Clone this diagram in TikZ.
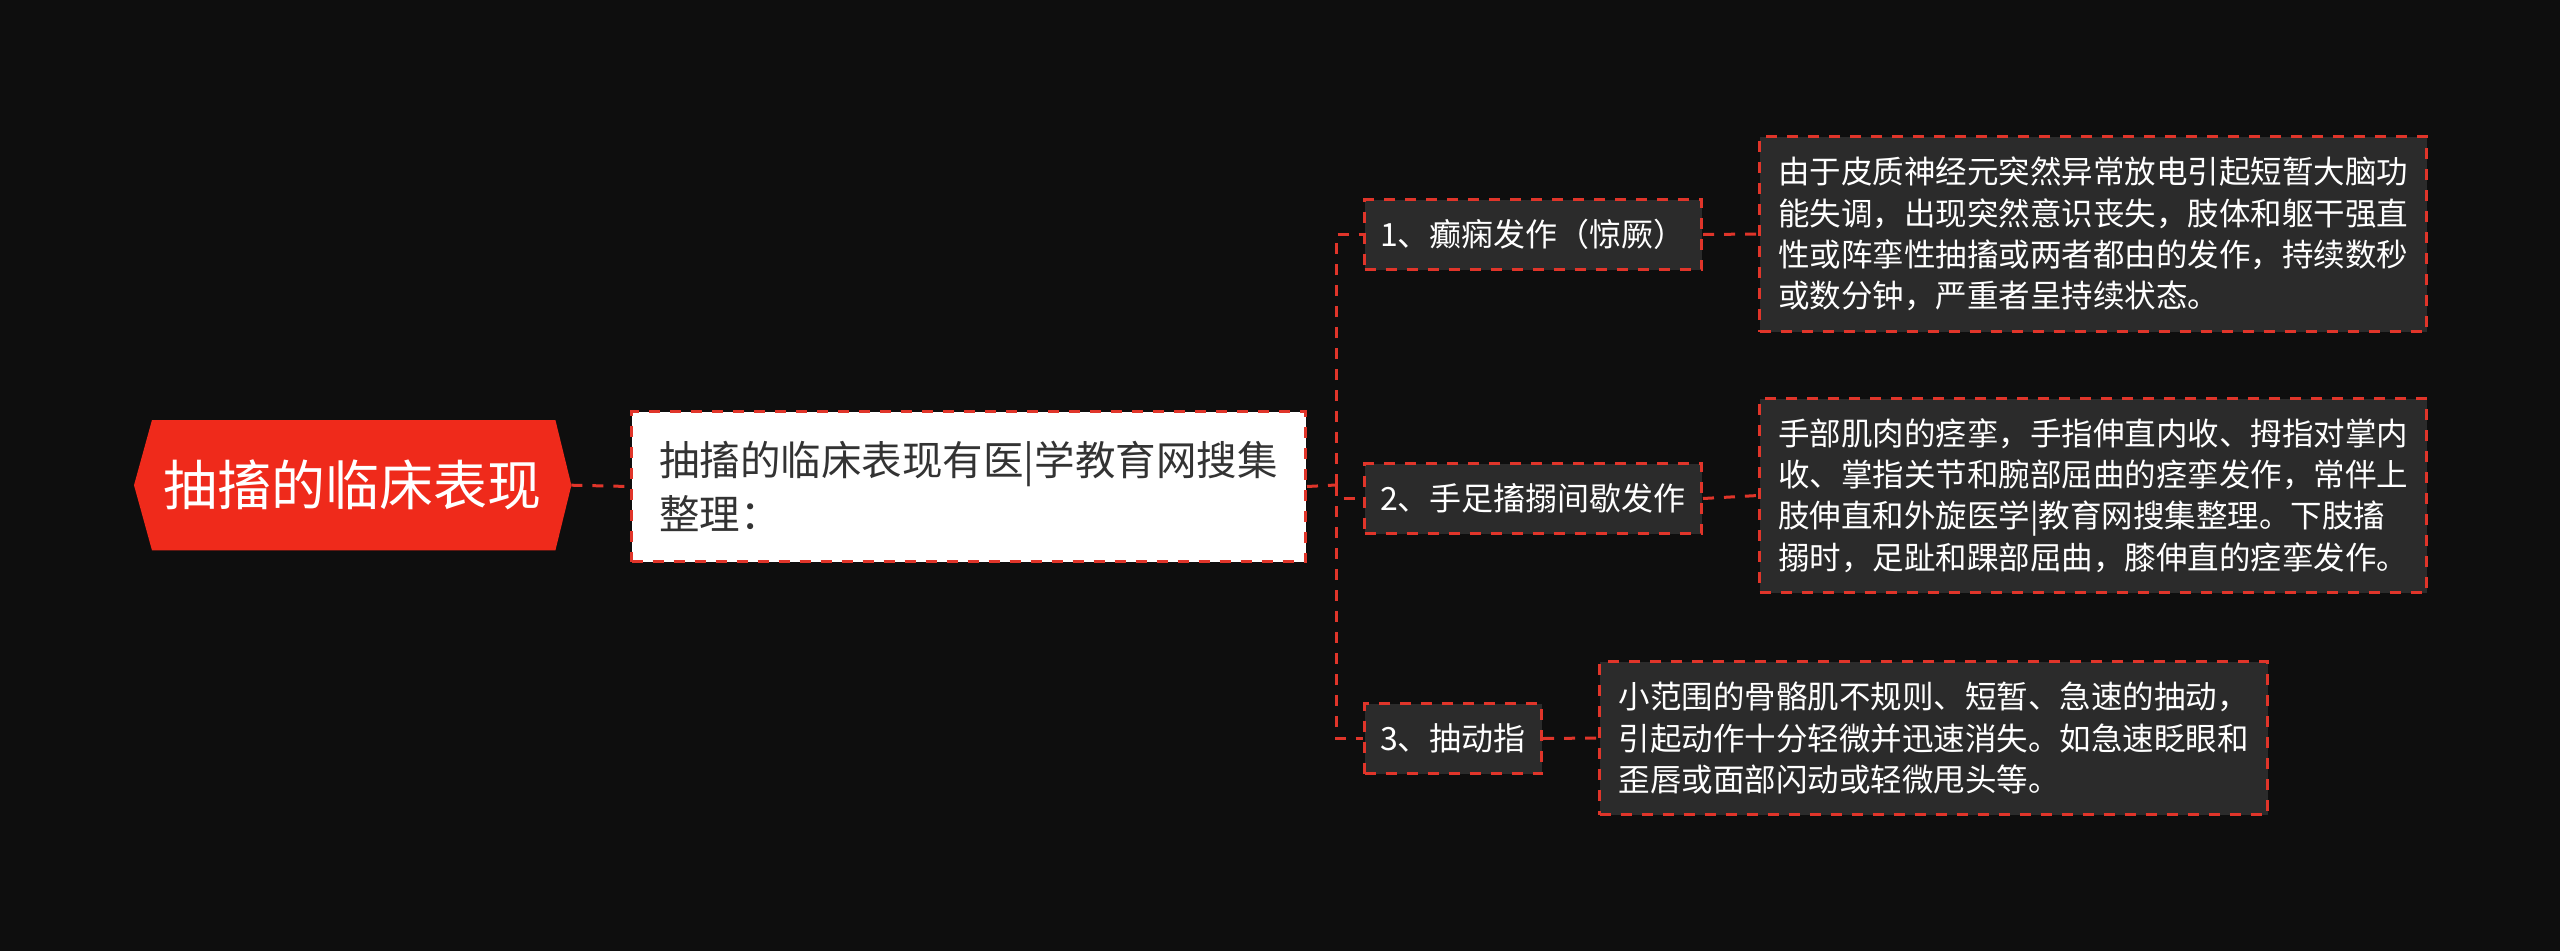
\documentclass[tikz,border=0pt]{standalone}
\usepackage{fontspec}
\setmainfont{Noto Sans CJK SC}
\usetikzlibrary{positioning,backgrounds}
\definecolor{bg}{HTML}{0E0E0E}
\definecolor{rootred}{HTML}{EF2A1B}
\definecolor{linered}{HTML}{E0352A}
\definecolor{boxfill}{HTML}{2B2B2B}
\definecolor{darktext}{HTML}{333333}
\tikzset{
    link/.style={
        linered,
        line width=3pt,
        dash pattern=on 11pt off 10pt
    },
    rootnode/.style={
        anchor=north west,
        text=white,
        inner sep=0pt,
        font=\fontsize{54}{60}\selectfont
    },
    topicbox/.style={
        anchor=north west,
        fill=white,
        draw=linered,
        line width=3pt,
        dash pattern=on 11pt off 10pt,
        text=darktext,
        align=left,
        inner sep=0pt,
        font=\fontsize{40.5}{54}\selectfont
    },
    branchbox/.style={
        anchor=north west,
        fill=boxfill,
        draw=linered,
        line width=3pt,
        dash pattern=on 11pt off 10pt,
        text=white,
        inner sep=0pt,
        font=\fontsize{32}{40}\selectfont
    },
    leafbox/.style={
        anchor=north west,
        fill=boxfill,
        draw=linered,
        line width=3pt,
        dash pattern=on 11pt off 10pt,
        text=white,
        align=left,
        inner sep=0pt,
        font=\fontsize{31.5}{41.3}\selectfont
    }
}

\begin{document}
\begin{tikzpicture}[x=1pt,y=-1pt]

    % Fond
    \useasboundingbox (0,0) rectangle (2560,951);
    \begin{scope}[on background layer]
        \fill[bg] (0,0) rectangle (2560,951);
    \end{scope}

    % Racine
    \node[rootnode, minimum width=437pt, minimum height=130pt]
        (root) at (134,420)
        {抽搐的临床表现};
    \begin{scope}[on background layer]
        \fill[rootred]
            (root.west)
            -- ([xshift=18pt]root.north west)
            -- ([xshift=-16pt]root.north east)
            -- (root.east)
            -- ([xshift=-16pt]root.south east)
            -- ([xshift=18pt]root.south west)
            -- cycle;
    \end{scope}

    % Sujet
    \node[topicbox, minimum width=674pt, minimum height=150pt]
        (topic) at (630,410)
        {抽搐的临床表现有医|学教育网搜集\\整理：};

    % Branches
    \node[branchbox, minimum width=337pt, minimum height=70pt]
        (b1) at (1363,198)
        {1、癫痫发作（惊厥）};
    \node[branchbox, minimum width=337pt, minimum height=70pt]
        (b2) at (1363,462)
        {2、手足搐搦间歇发作};
    \node[branchbox, minimum width=177pt, minimum height=70pt]
        (b3) at (1363,702)
        {3、抽动指};

    % Feuilles
    \node[leafbox, minimum width=667pt, minimum height=195pt]
        (l1) at (1758,135)
        {由于皮质神经元突然异常放电引起短暂大脑功\\
         能失调，出现突然意识丧失，肢体和躯干强直\\
         性或阵挛性抽搐或两者都由的发作，持续数秒\\
         或数分钟，严重者呈持续状态。};
    \node[leafbox, minimum width=667pt, minimum height=194pt]
        (l2) at (1758,397)
        {手部肌肉的痉挛，手指伸直内收、拇指对掌内\\
         收、掌指关节和腕部屈曲的痉挛发作，常伴上\\
         肢伸直和外旋医学|教育网搜集整理。下肢搐\\
         搦时，足趾和踝部屈曲，膝伸直的痉挛发作。};
    \node[leafbox, minimum width=668pt, minimum height=153pt]
        (l3) at (1598,660)
        {小范围的骨骼肌不规则、短暂、急速的抽动，\\
         引起动作十分轻微并迅速消失。如急速眨眼和\\
         歪唇或面部闪动或轻微甩头等。};

    % Liens
    \coordinate (fork) at (1336,485);
    \draw[link] (root.east) -- (topic.west);
    \draw[link] (topic.east) -- (fork);
    \foreach \b in {b1,b2,b3}
        \draw[link] (fork) |- (\b.west);
    \draw[link] (b1.east) -- (l1.west);
    \draw[link] (b2.east) -- (l2.west);
    \draw[link] (b3.east) -- (l3.west);

\end{tikzpicture}
\end{document}
